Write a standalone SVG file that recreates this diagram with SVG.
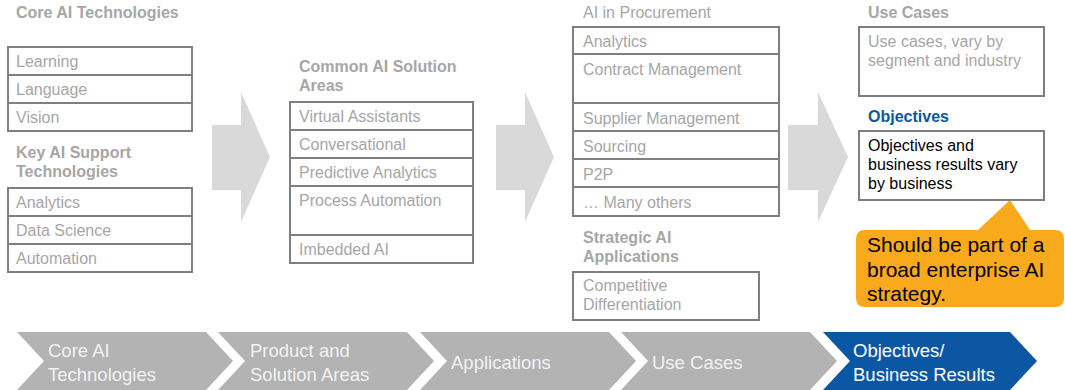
<svg xmlns="http://www.w3.org/2000/svg" width="1065" height="390" viewBox="0 0 1065 390">
<style>
text{font-family:"Liberation Sans",Arial,sans-serif;}
.t{font-size:16px;fill:#a6a6a6;}
.h{font-size:16px;font-weight:bold;fill:#a6a6a6;}
.hb{font-size:16px;font-weight:bold;fill:#0c57a3;}
.k{font-size:16px;fill:#000;}
.box{fill:#fff;stroke:#7f7f7f;stroke-width:2;}
.ln{stroke:#7f7f7f;stroke-width:2;}
.arr{fill:#d9d9d9;}
.chev{fill:#b3b3b3;}
.chevb{fill:#0c57a3;}
.ct{font-size:18.5px;fill:#f2f2f2;}
.cw{font-size:18.5px;fill:#fff;}
.call{fill:#f9a91c;}
.callt{font-size:21px;fill:#000;}
</style>

<g id="connectors">
<path class="arr" d="M212,125 L241,125 L241,92 L270,157 L241,222 L241,190 L212,190 Z"/>
<path class="arr" d="M496,125 L525,125 L525,92 L554,157 L525,222 L525,190 L496,190 Z"/>
<path class="arr" d="M788,125 L818,125 L818,92 L848,157 L818,222 L818,190 L788,190 Z"/>
</g>

<g id="core-ai">
<text class="h" x="16" y="18">Core AI Technologies</text>
<rect class="box" x="8" y="47" width="184" height="84"/>
<line class="ln" x1="8" y1="75" x2="192" y2="75"/>
<line class="ln" x1="8" y1="103" x2="192" y2="103"/>
<text class="t" x="16" y="67">Learning</text>
<text class="t" x="16" y="95">Language</text>
<text class="t" x="16" y="123">Vision</text>
</g>

<g id="key-ai-support">
<text class="h" x="16" y="158">Key AI Support</text>
<text class="h" x="16" y="177">Technologies</text>
<rect class="box" x="8" y="188" width="184" height="84"/>
<line class="ln" x1="8" y1="216" x2="192" y2="216"/>
<line class="ln" x1="8" y1="244" x2="192" y2="244"/>
<text class="t" x="16" y="208">Analytics</text>
<text class="t" x="16" y="236">Data Science</text>
<text class="t" x="16" y="264">Automation</text>
</g>

<g id="solution-areas">
<text class="h" x="299" y="72">Common AI Solution</text>
<text class="h" x="299" y="91">Areas</text>
<rect class="box" x="290" y="102" width="183" height="161"/>
<line class="ln" x1="290" y1="130" x2="473" y2="130"/>
<line class="ln" x1="290" y1="158" x2="473" y2="158"/>
<line class="ln" x1="290" y1="186" x2="473" y2="186"/>
<line class="ln" x1="290" y1="235" x2="473" y2="235"/>
<text class="t" x="299" y="122">Virtual Assistants</text>
<text class="t" x="299" y="150">Conversational</text>
<text class="t" x="299" y="178">Predictive Analytics</text>
<text class="t" x="299" y="206">Process Automation</text>
<text class="t" x="299" y="255">Imbedded AI</text>
</g>

<g id="procurement">
<text class="t" x="583" y="18">AI in Procurement</text>
<rect class="box" x="573" y="27" width="206" height="189"/>
<line class="ln" x1="573" y1="54" x2="779" y2="54"/>
<line class="ln" x1="573" y1="103" x2="779" y2="103"/>
<line class="ln" x1="573" y1="131" x2="779" y2="131"/>
<line class="ln" x1="573" y1="159" x2="779" y2="159"/>
<line class="ln" x1="573" y1="187" x2="779" y2="187"/>
<text class="t" x="583" y="47">Analytics</text>
<text class="t" x="583" y="75">Contract Management</text>
<text class="t" x="583" y="124">Supplier Management</text>
<text class="t" x="583" y="152">Sourcing</text>
<text class="t" x="583" y="180">P2P</text>
<text class="t" x="583" y="208">… Many others</text>
</g>

<g id="strategic-ai">
<text class="h" x="583" y="243">Strategic AI</text>
<text class="h" x="583" y="262">Applications</text>
<rect class="box" x="573" y="272" width="186" height="48"/>
<text class="t" x="583" y="291">Competitive</text>
<text class="t" x="583" y="310">Differentiation</text>
</g>

<g id="use-cases">
<text class="h" x="868" y="18">Use Cases</text>
<rect class="box" x="859" y="27" width="185" height="69"/>
<text class="t" x="868" y="47">Use cases, vary by</text>
<text class="t" x="868" y="66">segment and industry</text>
</g>

<g id="callout">
<path class="call" d="M865,230 L978,230 L1010,200 L1030,230 L1055,230 Q1064,230 1064,239 L1064,298 Q1064,307 1055,307 L865,307 Q856,307 856,298 L856,239 Q856,230 865,230 Z"/>
<text class="callt" x="867" y="252">Should be part of a</text>
<text class="callt" x="867" y="277">broad enterprise AI</text>
<text class="callt" x="867" y="301">strategy.</text>
</g>

<g id="objectives">
<text class="hb" x="868" y="122">Objectives</text>
<rect class="box" x="859" y="131" width="185" height="69"/>
<text class="k" x="868" y="151">Objectives and</text>
<text class="k" x="868" y="170">business results vary</text>
<text class="k" x="868" y="189">by business</text>
</g>

<g id="chevron-core">
<path class="chev" d="M17,332 L206,332 L233,361 L206,390 L17,390 L44,361 Z"/>
<text class="ct" x="48" y="357">Core AI</text>
<text class="ct" x="48" y="381">Technologies</text>
</g>
<g id="chevron-product">
<path class="chev" d="M218,332 L407,332 L434,361 L407,390 L218,390 L245,361 Z"/>
<text class="ct" x="250" y="357">Product and</text>
<text class="ct" x="250" y="381">Solution Areas</text>
</g>
<g id="chevron-applications">
<path class="chev" d="M420,332 L609,332 L636,361 L609,390 L420,390 L447,361 Z"/>
<text class="ct" x="451" y="369">Applications</text>
</g>
<g id="chevron-usecases">
<path class="chev" d="M621,332 L810,332 L837,361 L810,390 L621,390 L648,361 Z"/>
<text class="ct" x="652" y="369">Use Cases</text>
</g>
<g id="chevron-objectives">
<path class="chevb" d="M823,332 L1010,332 L1037,361 L1010,390 L823,390 L850,361 Z"/>
<text class="cw" x="853" y="357">Objectives/</text>
<text class="cw" x="853" y="381">Business Results</text>
</g>
</svg>
